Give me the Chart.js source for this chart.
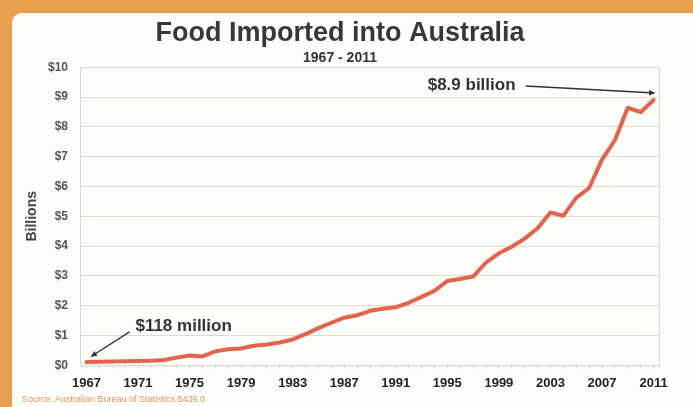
<!DOCTYPE html>
<html>
<head>
<meta charset="utf-8">
<script src="https://cdn.jsdelivr.net/npm/chart.js@4.4.0/dist/chart.umd.min.js"></script>
<style>
  html, body { margin: 0; padding: 0; }
  body { width: 693px; height: 407px; background: #e9a04e; position: relative; overflow: hidden; }
  #panel { position: absolute; left: 12px; top: 13px; width: 681px; height: 394px; background: #fdfdfa; border-top-left-radius: 10px; }
  #c { position: absolute; left: 0; top: 0; }
  #source { position: absolute; left: 22px; top: 394px; font: 9px "Liberation Sans Narrow", "Liberation Sans", sans-serif; color: #da9462; }
</style>
</head>
<body>
<div id="panel"></div>
<canvas id="c" width="693" height="407"></canvas>
<div id="source">Source: Australian Bureau of Statistics 5439.0</div>
<script>
// years on the x axis
const years = [
  1967, 1968, 1969, 1970, 1971, 1972, 1973, 1974, 1975, 1976,
  1977, 1978, 1979, 1980, 1981, 1982, 1983, 1984, 1985, 1986,
  1987, 1988, 1989, 1990, 1991, 1992, 1993, 1994, 1995, 1996,
  1997, 1998, 1999, 2000, 2001, 2002, 2003, 2004, 2005, 2006,
  2007, 2008, 2009, 2010, 2011
];
// food imports, $ billions
const imports = [
  0.118, 0.12, 0.13, 0.14, 0.15, 0.16, 0.18, 0.26, 0.33, 0.3,
  0.47, 0.54, 0.57, 0.66, 0.7, 0.77, 0.87, 1.05, 1.25, 1.43,
  1.6, 1.68, 1.83, 1.9, 1.95, 2.1, 2.3, 2.5, 2.83, 2.9,
  2.98, 3.45, 3.76, 3.98, 4.25, 4.6, 5.13, 5.02, 5.62, 5.95,
  6.9, 7.55, 8.64, 8.49, 8.9
];
const xTickYears = [1967, 1971, 1975, 1979, 1983, 1987, 1991, 1995, 1999, 2003, 2007, 2011];
const noteLabels = ['$118 million', '$8.9 billion'];

const sans = '"Liberation Sans", Arial, sans-serif';

// light box round the plot
const frame = {
  id: 'frame',
  beforeDatasetsDraw(chart) {
    const { ctx, chartArea: a } = chart;
    ctx.save();
    ctx.strokeStyle = '#d9d9d9';
    ctx.lineWidth = 1;
    ctx.strokeRect(a.left + 0.5, a.top + 0.5, a.right - a.left - 1, a.bottom - a.top);
    ctx.restore();
  }
};

function arrow(ctx, x1, y1, x2, y2) {
  const ang = Math.atan2(y2 - y1, x2 - x1);
  ctx.beginPath();
  ctx.moveTo(x1, y1);
  ctx.lineTo(x2 - 5 * Math.cos(ang), y2 - 5 * Math.sin(ang));
  ctx.stroke();
  ctx.beginPath();
  ctx.moveTo(x2, y2);
  ctx.lineTo(x2 - 7 * Math.cos(ang - 0.4), y2 - 7 * Math.sin(ang - 0.4));
  ctx.lineTo(x2 - 7 * Math.cos(ang + 0.4), y2 - 7 * Math.sin(ang + 0.4));
  ctx.closePath();
  ctx.fill();
}

// the two callouts, anchored to the first and last point
const notes = {
  id: 'notes',
  afterDatasetsDraw(chart) {
    const { ctx, scales: { x, y } } = chart;
    const n = imports.length - 1;
    const p0 = { x: x.getPixelForValue(0), y: y.getPixelForValue(imports[0]) };
    const p1 = { x: x.getPixelForValue(n), y: y.getPixelForValue(imports[n]) };
    ctx.save();
    ctx.font = 'bold 17px ' + sans;
    ctx.fillStyle = '#333';
    ctx.strokeStyle = '#333';
    ctx.lineWidth = 1.3;
    ctx.textBaseline = 'middle';
    ctx.fillText(noteLabels[0], p0.x + 49, p0.y - 36);
    arrow(ctx, p0.x + 43, p0.y - 30, p0.x + 4, p0.y - 5);
    ctx.textAlign = 'right';
    ctx.fillText(noteLabels[1], p1.x - 138, p1.y - 15);
    arrow(ctx, p1.x - 128, p1.y - 14, p1.x + 2, p1.y - 7);
    ctx.restore();
  }
};

new Chart(document.getElementById('c'), {
  type: 'line',
  data: {
    labels: years,
    datasets: [{
      data: imports,
      borderColor: 'rgb(226, 99, 78)',
      borderWidth: 4,
      borderCapStyle: 'round',
      borderJoinStyle: 'round',
      pointRadius: 0,
      tension: 0,
      fill: false
    }]
  },
  options: {
    responsive: false,
    animation: false,
    layout: { padding: { left: 20, right: 33, top: 0, bottom: 9 } },
    plugins: {
      legend: { display: false },
      tooltip: { enabled: false },
      title: {
        display: true,
        text: 'Food Imported into Australia',
        color: '#383838',
        font: { family: sans, size: 27, weight: 'bold' },
        padding: { top: 17, bottom: 0 }
      },
      subtitle: {
        display: true,
        text: '1967 - 2011',
        color: '#333',
        font: { family: sans, size: 14, weight: 'bold' },
        padding: { top: 0, bottom: 1 }
      }
    },
    scales: {
      x: {
        offset: true,
        border: { display: false },
        grid: { drawOnChartArea: false, drawTicks: true, tickLength: 3, color: '#cfcfcf' },
        ticks: {
          autoSkip: false,
          maxRotation: 0,
          padding: 7,
          color: '#222',
          font: { family: sans, size: 13, weight: 'bold' },
          callback: (v, i) => xTickYears.includes(years[i]) ? years[i] : ''
        }
      },
      y: {
        min: 0,
        max: 10,
        afterFit: s => { s.width = 60; },
        border: { display: false },
        grid: { color: '#e6d9ca', drawTicks: false },
        ticks: {
          stepSize: 1,
          padding: 12,
          color: '#555',
          font: { family: sans, size: 12, weight: 'bold' },
          callback: v => '$' + v
        },
        title: {
          display: true,
          text: 'Billions',
          color: '#444',
          font: { family: sans, size: 14, weight: 'bold' }
        }
      }
    }
  },
  plugins: [frame, notes]
});
</script>
</body>
</html>
